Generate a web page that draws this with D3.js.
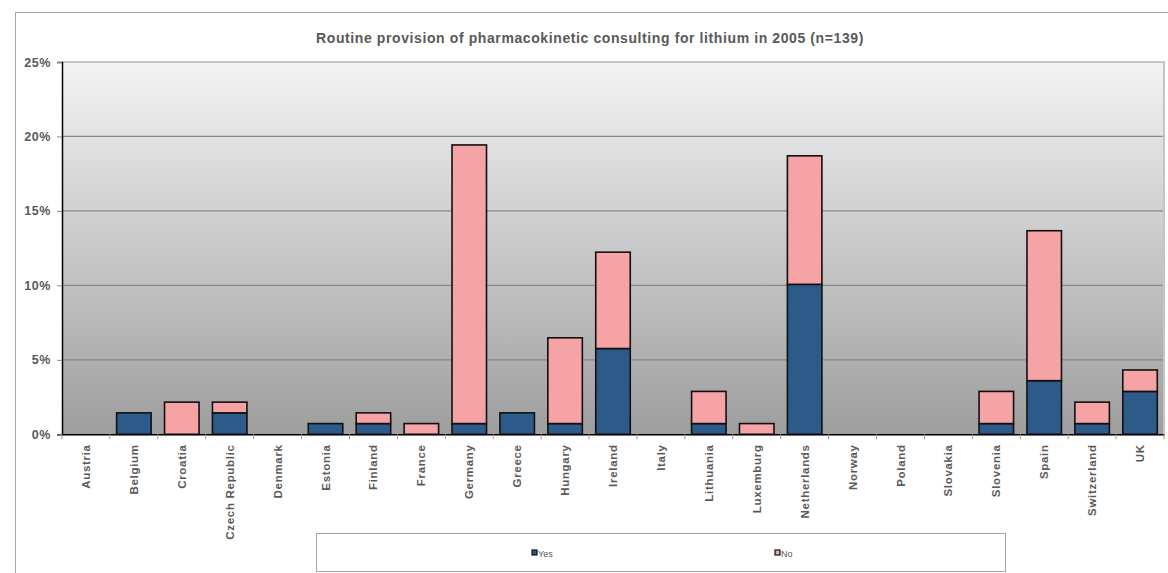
<!DOCTYPE html>
<html>
<head>
<meta charset="utf-8">
<script src="https://cdn.jsdelivr.net/npm/d3@7"></script>
<style>
  html, body { margin: 0; padding: 0; background: #fff; }
  svg { display: block; font-family: "Liberation Sans", Arial, sans-serif; }
</style>
</head>
<body>
<svg id="chart" width="1168" height="573"></svg>
<script>
const categories = ["Austria","Belgium","Croatia","Czech Republic","Denmark","Estonia","Finland","France","Germany","Greece","Hungary","Ireland","Italy","Lithuania","Luxemburg","Netherlands","Norway","Poland","Slovakia","Slovenia","Spain","Switzerland","UK"];
const yesValues = [0,1.44,0,1.44,0,0.72,0.72,0,0.72,1.44,0.72,5.76,0,0.72,0,10.07,0,0,0,0.72,3.60,0.72,2.88];
const noValues  = [0,0,2.16,0.72,0,0,0.72,0.72,18.71,0,5.76,6.47,0,2.16,0.72,8.63,0,0,0,2.16,10.07,1.44,1.44];
const seriesNames = ["Yes","No"];
const seriesColors = ["#2c5b8a","#f5a3a5"];
const yTicks = [0,5,10,15,20,25];
const titleText = "Routine provision of pharmacokinetic consulting for lithium in 2005 (n=139)";

const svg = d3.select("#chart");
const m = {left: 62, top: 62, right: 1164, bottom: 434.3};
const textColor = "#595959";

// outer frame
svg.append("rect").attr("x", 15.5).attr("y", 12.5).attr("width", 1200).attr("height", 700)
  .attr("fill", "#fff").attr("stroke", "#a6a6a6").attr("stroke-width", 1);

// gradient
const defs = svg.append("defs");
const grad = defs.append("linearGradient").attr("id", "bg").attr("x1", 0).attr("y1", 0).attr("x2", 0).attr("y2", 1);
grad.append("stop").attr("offset", "0%").attr("stop-color", "#f2f3f2");
grad.append("stop").attr("offset", "100%").attr("stop-color", "#9e9e9e");

const x = d3.scaleBand().domain(categories).range([m.left, m.right]).paddingInner(0.28).paddingOuter(0.14);
const xb = d3.scaleBand().domain(categories).range([m.left, m.right]);
const y = d3.scaleLinear().domain([0, 25]).range([m.bottom, m.top]);

svg.append("rect").attr("x", m.left).attr("y", m.top).attr("width", m.right - m.left).attr("height", m.bottom - m.top)
  .attr("fill", "url(#bg)");

// gridlines
svg.append("g").selectAll("line").data(yTicks.filter(d => d > 0 && d < 25)).join("line")
  .attr("x1", m.left).attr("x2", m.right).attr("y1", d => y(d)).attr("y2", d => y(d))
  .attr("stroke", "#8a8a8a").attr("stroke-width", 1.3);
// plot border (top/right light)
svg.append("path").attr("d", `M${m.left},${m.top}H${m.right}V${m.bottom}`)
  .attr("fill", "none").attr("stroke", "#c4c4c4").attr("stroke-width", 2);

// stacked bars
const data = categories.map((c, i) => ({cat: c, Yes: yesValues[i], No: noValues[i]}));
const stack = d3.stack().keys(seriesNames)(data);
stack.forEach((layer, li) => {
  svg.append("g").selectAll("rect").data(layer.filter(d => d[1] - d[0] > 0)).join("rect")
    .attr("x", d => x(d.data.cat)).attr("width", x.bandwidth())
    .attr("y", d => y(d[1])).attr("height", d => y(d[0]) - y(d[1]))
    .attr("fill", seriesColors[li]).attr("stroke", "#111").attr("stroke-width", 1.6);
});

// y axis
const yAxis = svg.append("g").attr("transform", `translate(${m.left},0)`)
  .call(d3.axisLeft(y).tickValues(yTicks).tickFormat(d => d + "%").tickSize(5).tickPadding(6));
yAxis.select(".domain").attr("stroke", "#000").attr("stroke-width", 1.5);
yAxis.selectAll(".tick line").attr("stroke", "#888");
yAxis.selectAll("text").attr("fill", textColor).attr("font-size", "12.5px").attr("font-weight", "bold")
  .attr("font-family", "Liberation Sans, Arial, sans-serif").attr("letter-spacing", "0.6px");

// x axis
const xAxis = svg.append("g").attr("transform", `translate(0,${m.bottom})`)
  .call(d3.axisBottom(xb).tickSize(0).tickFormat(d => d));
xAxis.select(".domain").attr("stroke", "#000").attr("stroke-width", 1.5);
xAxis.selectAll("text").attr("fill", textColor).attr("font-size", "11.5px").attr("font-weight", "bold")
  .attr("font-family", "Liberation Sans, Arial, sans-serif").attr("letter-spacing", "0.7px")
  .attr("text-anchor", "end").attr("transform", "rotate(-90)")
  .attr("x", -10).attr("y", 0).attr("dy", "0.35em");
// boundary ticks
svg.append("g").selectAll("line").data(categories.concat(["_end"])).join("line")
  .attr("x1", (d, i) => m.left + i * xb.bandwidth()).attr("x2", (d, i) => m.left + i * xb.bandwidth())
  .attr("y1", m.bottom).attr("y2", m.bottom + 5).attr("stroke", "#999").attr("stroke-width", 1);

// title
svg.append("text").attr("x", 590).attr("y", 43).attr("text-anchor", "middle")
  .attr("font-size", "14px").attr("font-weight", "bold").attr("letter-spacing", "0.6px")
  .attr("fill", textColor).text(titleText);

// legend
svg.append("rect").attr("x", 316.5).attr("y", 533.5).attr("width", 689).attr("height", 38)
  .attr("fill", "#fff").attr("stroke", "#a6a6a6");
const legendX = [532, 775];
seriesNames.forEach((s, i) => {
  svg.append("rect").attr("x", legendX[i]).attr("y", 550).attr("width", 5).attr("height", 5)
    .attr("fill", seriesColors[i]).attr("stroke", "#111").attr("stroke-width", 1.2);
  svg.append("text").attr("x", legendX[i] + 6).attr("y", 556.5).attr("font-size", "9px")
    .attr("fill", textColor).text(s);
});
</script>
</body>
</html>
